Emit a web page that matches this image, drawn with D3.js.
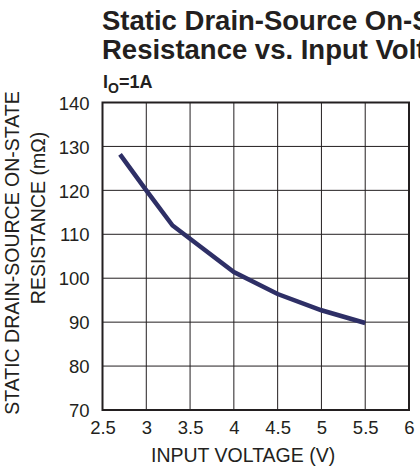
<!DOCTYPE html>
<html>
<head>
<meta charset="utf-8">
<script src="https://cdn.jsdelivr.net/npm/d3@7"></script>
<style>
body { margin: 0; background: #fff; overflow: hidden; }
text { font-family: Arial, "Liberation Sans", sans-serif; fill: #231f20; }
</style>
</head>
<body>
<script>
var width = 420,
    height = 467;

// reference data
var voltage = [2.7, 3.0, 3.3, 4.0, 4.5, 5.0, 5.5];
var resistance = [128.2, 120, 112, 101.4, 96.4, 92.7, 89.8];
var xTicks = [2.5, 3, 3.5, 4, 4.5, 5, 5.5, 6];
var yTicks = [70, 80, 90, 100, 110, 120, 130, 140];
var titleLines = ["Static Drain-Source On-State", "Resistance vs. Input Voltage"];
var yTitleLines = ["STATIC DRAIN-SOURCE ON-STATE", "RESISTANCE (m\u03A9)"];

var svg = d3.select("body").append("svg")
    .attr("width", width)
    .attr("height", height)
    .style("display", "block");

var pLeft = 102.5, pRight = 409, pTop = 102.5, pBottom = 410;

var x = d3.scaleLinear().domain([2.5, 6]).range([pLeft, pRight]);
var y = d3.scaleLinear().domain([70, 140]).range([pBottom, pTop]);

// title (runs off the right edge, as in the reference)
svg.selectAll("text.title")
  .data(titleLines)
  .enter().append("text")
    .attr("class", "title")
    .attr("x", 102)
    .attr("y", function(d, i) { return 29.5 + i * 29; })
    .style("font-size", "27.5px")
    .style("font-weight", "bold")
    .text(function(d) { return d; });

// condition label
var cond = svg.append("text")
    .attr("x", 103)
    .attr("y", 88)
    .style("font-size", "18px")
    .style("font-weight", "bold");
cond.append("tspan").text("I");
cond.append("tspan").attr("dy", 5).style("font-size", "14px").text("O");
cond.append("tspan").attr("dy", -5).text("=1A");

// grid
var grid = svg.append("g").attr("stroke", "#231f20").attr("stroke-width", 1);
grid.selectAll("line.vx")
  .data(xTicks.slice(1, -1))
  .enter().append("line")
    .attr("x1", function(d) { return x(d); })
    .attr("x2", function(d) { return x(d); })
    .attr("y1", pTop).attr("y2", pBottom);
grid.selectAll("line.hy")
  .data(yTicks.slice(1, -1))
  .enter().append("line")
    .attr("y1", function(d) { return y(d); })
    .attr("y2", function(d) { return y(d); })
    .attr("x1", pLeft).attr("x2", pRight);

svg.append("rect")
    .attr("x", pLeft).attr("y", pTop)
    .attr("width", pRight - pLeft).attr("height", pBottom - pTop)
    .attr("fill", "none")
    .attr("stroke", "#231f20")
    .attr("stroke-width", 2);

// axes via d3 axis, domain and ticks hidden
var xAxis = svg.append("g")
    .attr("transform", "translate(0," + pBottom + ")")
    .call(d3.axisBottom(x).tickValues(xTicks).tickSize(0).tickPadding(0).tickFormat(d3.format("")));
var yAxis = svg.append("g")
    .attr("transform", "translate(" + pLeft + ",0)")
    .call(d3.axisLeft(y).tickValues(yTicks).tickSize(0).tickPadding(13));
[xAxis, yAxis].forEach(function(a) {
  a.select(".domain").remove();
  a.selectAll("text")
    .style("font-size", "18.5px")
    .style("font-family", "Arial, 'Liberation Sans', sans-serif")
    .attr("fill", "#231f20");
});
xAxis.selectAll("text").attr("dy", null).attr("y", 24);
yAxis.selectAll("text").attr("dy", "0.36em");

// axis titles
svg.append("text")
    .attr("x", 151)
    .attr("y", 461.5)
    .style("font-size", "19.5px")
    .text("INPUT VOLTAGE (V)");

var yTitlePos = [[18.5, 253], [45, 218]];
svg.selectAll("text.ytitle")
  .data(yTitleLines)
  .enter().append("text")
    .attr("class", "ytitle")
    .attr("text-anchor", "middle")
    .attr("transform", function(d, i) {
      return "translate(" + yTitlePos[i][0] + "," + yTitlePos[i][1] + ") rotate(-90)";
    })
    .style("font-size", "19.5px")
    .text(function(d) { return d; });

// curve
var pts = voltage.map(function(v, i) { return [v, resistance[i]]; });
svg.append("path")
    .datum(pts)
    .attr("fill", "none")
    .attr("stroke", "#2e2f66")
    .attr("stroke-width", 4.5)
    .attr("d", d3.line()
      .x(function(d) { return x(d[0]); })
      .y(function(d) { return y(d[1]); }));
</script>
</body>
</html>
